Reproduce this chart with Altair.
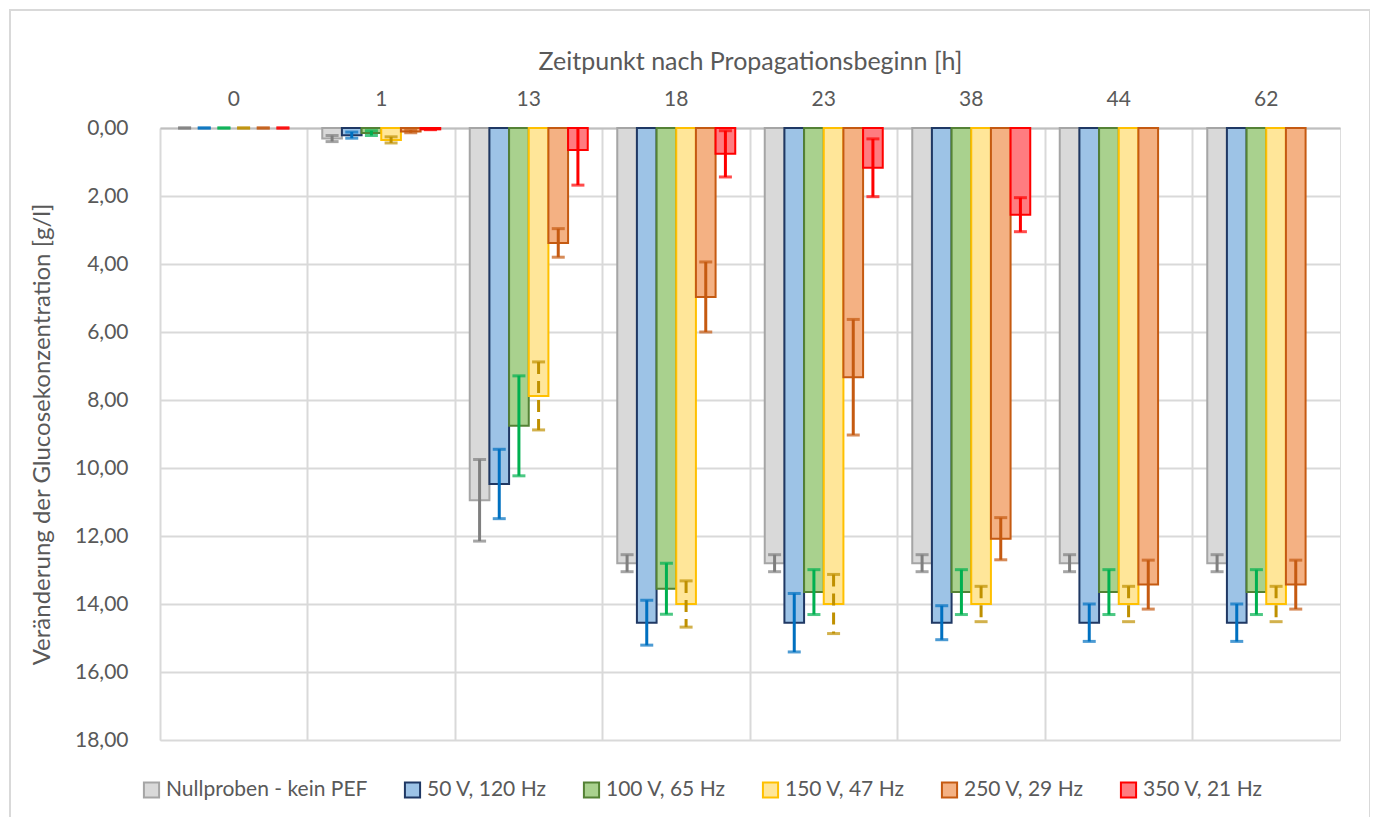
import altair as alt
import pandas as pd

times = ["0", "1", "13", "18", "23", "38", "44", "62"]
series = ["Nullproben - kein PEF", "50 V, 120 Hz", "100 V, 65 Hz",
          "150 V, 47 Hz", "250 V, 29 Hz", "350 V, 21 Hz"]

v_null = [0, 0.31, 10.95, 12.80, 12.80, 12.80, 12.80, 12.80]
e_null = [0, 0.09, 1.20, 0.25, 0.25, 0.25, 0.25, 0.25]
v_50 = [0, 0.21, 10.47, 14.55, 14.55, 14.55, 14.55, 14.55]
e_50 = [0, 0.09, 1.02, 0.66, 0.86, 0.50, 0.55, 0.55]
v_100 = [0, 0.15, 8.76, 13.55, 13.65, 13.65, 13.65, 13.65]
e_100 = [0, 0.07, 1.47, 0.75, 0.66, 0.66, 0.66, 0.66]
v_150 = [0, 0.35, 7.88, 14.00, 14.00, 14.00, 14.00, 14.00]
e_150 = [0, 0.09, 1.00, 0.68, 0.87, 0.52, 0.52, 0.52]
v_250 = [0, 0.10, 3.38, 4.97, 7.33, 12.08, 13.43, 13.43]
e_250 = [0, 0.04, 0.42, 1.03, 1.70, 0.62, 0.72, 0.72]
v_350 = [0, 0.04, 0.65, 0.76, 1.17, 2.55, None, None]
e_350 = [0, 0.01, 1.03, 0.68, 0.85, 0.50, None, None]

fills = ["#D9D9D9", "#9DC3E6", "#A9D18E", "#FFE699", "#F4B183", "#FF7C80"]
strokes = ["#A5A5A5", "#1F3864", "#548235", "#FFC000", "#C55A11", "#FF0000"]
err_colors = ["#7F7F7F", "#0070C0", "#00B050", "#BF9000", "#C55A11", "#FF0000"]
dashed_series = "150 V, 47 Hz"

values = [v_null, v_50, v_100, v_150, v_250, v_350]
errors = [e_null, e_50, e_100, e_150, e_250, e_350]

rows = []
for s, vals, errs in zip(series, values, errors):
    for t, v, e in zip(times, vals, errs):
        if v is None:
            continue
        lo = v - e
        rows.append({
            "t": t, "s": s, "v": v, "e": e,
            "lo": max(lo, 0.0),
            "hi": v + e,
            "cap_lo": lo if lo >= 0 else None,
        })
df = pd.DataFrame(rows)

FONT = "Lato"
TXT = "#595959"
Y_TITLE = "Veränderung der Glucosekonzentration [g/l]"

x_enc = alt.X("t:N", sort=times, scale=alt.Scale(paddingInner=0, paddingOuter=0),
              axis=alt.Axis(orient="top", title="Zeitpunkt nach Propagationsbeginn [h]",
                            labelAngle=0, labelFontSize=21, labelColor=TXT, labelFont=FONT,
                            labelPadding=19, titleFontSize=25, titleFont=FONT,
                            titleColor=TXT, titleFontWeight="normal", titlePadding=14,
                            grid=False, ticks=False, domain=True,
                            domainColor="#BFBFBF", domainWidth=2))
x_grid = alt.X("t:N", sort=times, scale=alt.Scale(paddingInner=0, paddingOuter=0),
               axis=alt.Axis(orient="bottom", title=None, labels=False, ticks=False,
                             domain=False, grid=True, bandPosition=0,
                             gridColor="#D9D9D9", gridWidth=2))
x_plain = alt.X("t:N", sort=times, axis=None)
xoff = alt.XOffset("s:N", sort=series,
                   scale=alt.Scale(domain=series, paddingInner=0, paddingOuter=0.75))

y_scale = alt.Scale(domain=[0, 18], reverse=True, nice=False)
y_axis = alt.Axis(values=list(range(0, 19, 2)),
                  labelExpr="replace(format(datum.value, '.2f'), '.', ',')",
                  title=Y_TITLE,
                  labelFontSize=21, labelColor=TXT, labelFont=FONT,
                  labelPadding=32, titleFontSize=24, titleFont=FONT,
                  titleColor=TXT, titleFontWeight="normal", titlePadding=20,
                  grid=True, gridColor="#D9D9D9", gridWidth=2,
                  ticks=False, domain=False)

legend = alt.Legend(title=None, orient="none", legendX=-19, legendY=651,
                    direction="horizontal", columns=6, symbolType="square",
                    symbolSize=230, symbolStrokeWidth=2, labelFontSize=21,
                    labelFont=FONT, labelColor=TXT, columnPadding=32, labelOffset=4,
                    labelLimit=400)

bars = alt.Chart(df).transform_filter("datum.v > 0").mark_bar(strokeWidth=2).encode(
    x=x_enc, xOffset=xoff,
    y=alt.Y("v:Q", scale=y_scale, axis=y_axis, title=Y_TITLE),
    fill=alt.Fill("s:N", sort=series, scale=alt.Scale(domain=series, range=fills), legend=legend),
    stroke=alt.Stroke("s:N", sort=series, scale=alt.Scale(domain=series, range=strokes), legend=legend),
)

err_color = alt.Color("s:N", scale=alt.Scale(domain=series, range=err_colors), legend=None)

err_rule = alt.Chart(df).mark_rule(strokeWidth=3).encode(
    x=x_grid, xOffset=xoff,
    y=alt.Y("lo:Q", scale=y_scale, axis=y_axis, title=Y_TITLE),
    y2="hi:Q",
    color=err_color,
    strokeDash=alt.condition(f"datum.s == '{dashed_series}'",
                             alt.value([12, 7]), alt.value([1, 0])),
)

cap_hi = alt.Chart(df).mark_tick(thickness=3, size=13).encode(
    x=x_plain, xOffset=xoff,
    y=alt.Y("hi:Q", scale=y_scale, axis=y_axis, title=Y_TITLE), color=err_color)
cap_lo = alt.Chart(df).mark_tick(thickness=3, size=13).encode(
    x=x_plain, xOffset=xoff,
    y=alt.Y("cap_lo:Q", scale=y_scale, axis=y_axis, title=Y_TITLE), color=err_color)

border = alt.Chart(pd.DataFrame({"a": [0]})).mark_rect(
    fill=None, stroke="#D9D9D9", strokeWidth=2).encode(
    x=alt.value(-150), x2=alt.value(1210), y=alt.value(-118), y2=alt.value(694))

chart = alt.layer(bars, err_rule, cap_hi, cap_lo, border).resolve_axis(
    x="independent"
).properties(
    width=1180, height=612,
    autosize=alt.AutoSizeParams(type="none"),
    padding={"left": 152, "top": 120, "right": 30, "bottom": 77},
).configure_view(stroke="#D9D9D9", strokeWidth=2).configure(background="white")

chart.save("out.html", embed_options={"renderer": "svg", "actions": False})
